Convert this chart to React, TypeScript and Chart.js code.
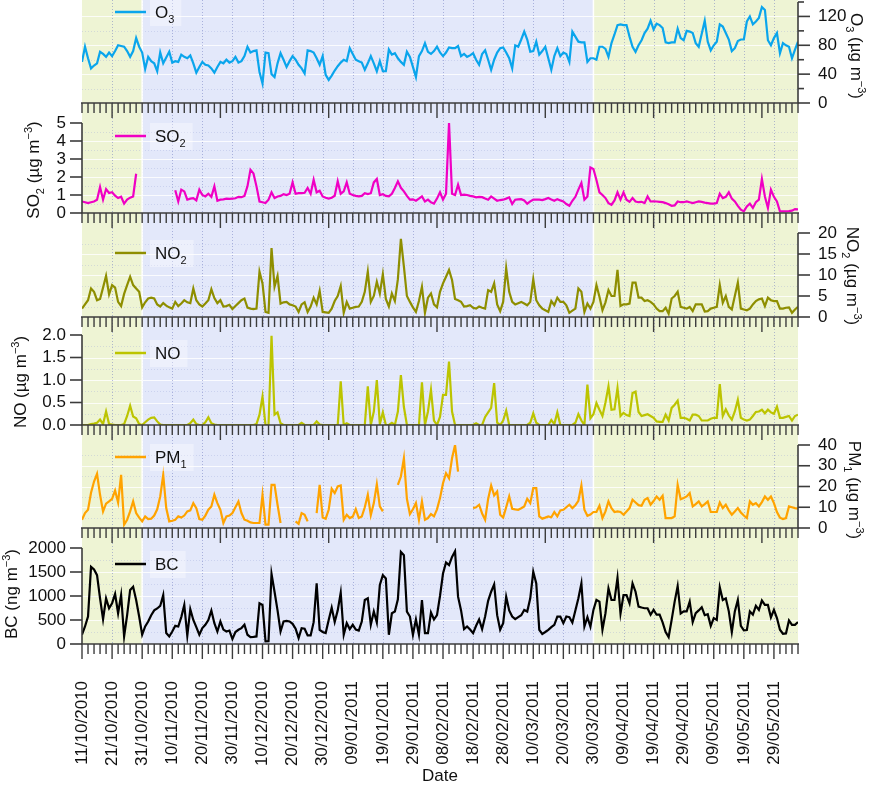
import React, { useEffect, useRef } from 'react';
import { Chart, registerables } from 'chart.js';

Chart.register(...registerables);

const FONT = "'Liberation Sans', Arial, Helvetica, sans-serif";

// ---------- data ----------
const DATE_LABELS = [
  '11/10/2010', '21/10/2010', '31/10/2010', '10/11/2010', '20/11/2010', '30/11/2010',
  '10/12/2010', '20/12/2010', '30/12/2010', '09/01/2011', '19/01/2011', '29/01/2011',
  '08/02/2011', '18/02/2011', '28/02/2011', '10/03/2011', '20/03/2011', '30/03/2011',
  '09/04/2011', '19/04/2011', '29/04/2011', '09/05/2011', '19/05/2011', '29/05/2011',
];
const LAST_DAY = 238;
const SEASON_BOUNDS = [0, 20, 170, 238];

const O3 = [
  57, 78, 62, 48, 52, 55, 71, 68, 64, 70,
  65, 72, 80, 79, 78, 72, 64, 72, 90, 78,
  70, 47, 64, 58, 55, 44, 70, 55, 63, 71,
  56, 58, 57, 67, 64, 62, 66, 55, 42, 50,
  57, 53, 52, 48, 42, 50, 57, 55, 60, 56,
  58, 64, 56, 58, 65, 78, 70, 72, 73, 43,
  27, 70, 69, 40, 36, 55, 69, 60, 50, 58,
  65, 60, 53, 48, 41, 73, 72, 70, 62, 53,
  65, 39, 32, 38, 45, 51, 56, 60, 58, 76,
  68, 60, 58, 56, 46, 55, 65, 55, 44, 58,
  44, 44, 74, 67, 69, 62, 57, 53, 71, 64,
  50, 36, 65, 72, 83, 71, 68, 72, 78, 70,
  65, 70, 77, 76, 76, 79, 65, 68, 64, 66,
  69, 60, 53, 68, 73, 60, 46, 60, 70, 76,
  77, 70, 62, 48, 80, 78, 88, 99, 88, 71,
  72, 85, 67, 72, 78, 62, 46, 65, 76, 65,
  70, 68, 57, 99, 92, 85, 84, 84, 57, 62,
  62, 60, 78, 78, 75, 64, 83, 95, 108, 109,
  108, 108, 92, 78, 71, 80, 87, 97, 103, 114,
  102, 110, 108, 104, 84, 83, 84, 84, 103, 90,
  87, 100, 99, 97, 83, 78, 96, 114, 85, 73,
  80, 85, 109, 106, 97, 88, 72, 76, 86, 88,
  88, 113, 120, 109, 113, 118, 133, 129, 87, 80,
  90, 97, 69, 83, 80, 78, 62, 74, 85,
];

const SO2 = [
  0.64, 0.6, 0.55, 0.6, 0.64, 0.74, 1.44, 0.74, 1.33, 1.11,
  1.15, 0.96, 0.83, 0.9, 0.52, 0.74, 0.85, 0.92, 2.18, null,
  null, null, null, null, null, null, null, null, null, null,
  null, 1.26, 0.64, 1.3, 1.2, 0.74, 0.8, 0.83, 0.7, 1.3,
  1.0, 0.92, 1.07, 0.9, 1.48, 0.68, 0.74, 0.76, 0.8, 0.78,
  0.8, 0.82, 0.9, 0.88, 0.95, 1.48, 2.4, 2.2, 1.48, 0.64,
  0.6, 0.55, 0.74, 1.15, 0.83, 0.92, 0.95, 1.05, 1.0, 1.07,
  1.7, 1.07, 1.1, 1.1, 1.12, 1.39, 1.07, 1.85, 1.15, 1.24,
  0.92, 0.85, 0.8, 0.85, 0.96, 1.76, 1.07, 1.2, 1.7, 1.07,
  1.0, 0.95, 0.92, 0.95, 1.1, 1.05, 1.1, 1.7, 1.89, 1.0,
  1.05, 0.95, 0.92, 1.07, 1.39, 1.76, 1.4, 1.2, 0.95, 0.74,
  0.76, 0.68, 0.8, 0.92, 0.64, 0.74, 0.59, 0.52, 0.8, 1.15,
  0.74, 1.07, 5.0, 1.07, 1.0, 1.57, 1.0, 1.02, 1.0, 0.95,
  0.92, 0.87, 0.9, 0.88, 0.8, 0.74, 0.92, 0.8, 0.68, 0.72,
  0.74, 0.8, 0.87, 0.5, 0.74, 0.76, 0.77, 0.7, 0.52, 0.65,
  0.74, 0.74, 0.74, 0.72, 0.77, 0.83, 0.75, 0.68, 0.77, 0.7,
  0.64, 0.5, 0.4, 0.68, 0.9, 1.3, 1.67, 0.74, 0.92, 2.53,
  2.44, 1.83, 1.15, 1.0, 0.83, 0.55, 0.46, 0.7, 1.15, 0.74,
  1.15, 0.74, 0.62, 0.83, 0.64, 0.6, 0.62, 0.55, 0.92, 0.64,
  0.65, 0.64, 0.62, 0.6, 0.55, 0.48, 0.4, 0.42, 0.64, 0.6,
  0.6, 0.64, 0.6, 0.55, 0.6, 0.64, 0.62, 0.58, 0.55, 0.52,
  0.52, 0.55, 1.07, 0.83, 0.9, 1.15, 0.8, 0.64, 0.4, 0.18,
  0.09, 0.37, 0.52, 0.28, 0.6, 0.74, 1.89, 0.92, 0.28, 1.3,
  0.9, 0.64, 0.09, 0.09, 0.09, 0.1, 0.13, 0.22, 0.2,
];

const NO2 = [
  2.0, 3.0, 4.0, 6.8, 6.0, 4.0, 4.3, 7.0, 9.8, 5.4,
  7.6, 7.0, 3.6, 2.6, 5.5, 7.6, 9.6, 7.6, 6.8, 6.0,
  2.3, 3.5, 4.4, 4.6, 4.4, 3.0, 2.5, 3.3, 2.7, 2.3,
  2.0, 3.6, 2.6, 3.2, 4.0, 3.5, 3.3, 6.8, 4.0, 3.0,
  2.5, 3.2, 4.0, 6.6, 4.5, 3.3, 4.0, 2.5, 2.6, 2.9,
  1.9, 2.6, 3.3, 4.0, 4.4, 2.25, 2.0, 1.9, 2.0, 10.8,
  8.0, 1.2, 1.0, 16.4, 7.2, 9.8, 3.2, 3.5, 3.6, 3.0,
  2.8, 2.5, 1.2, 3.0, 3.5, 1.2, 2.5, 4.6, 3.0, 6.2,
  1.2, 1.1, 1.0, 2.0, 3.8, 5.0, 7.4, 1.0, 3.6, 2.0,
  2.2, 2.4, 2.5, 3.6, 6.0, 10.8, 3.6, 5.0, 8.4, 5.6,
  10.2, 4.3, 2.5, 5.6, 3.8, 9.0, 18.6, 12.0, 5.0, 3.6,
  2.3, 1.2, 3.8, 7.2, 1.0, 4.6, 5.6, 3.0, 2.3, 6.0,
  8.0, 9.6, 11.2, 8.8, 4.3, 4.0, 3.6, 2.5, 2.6, 2.8,
  2.2, 2.0, 2.5, 2.2, 2.0, 6.4, 6.0, 8.0, 3.0, 1.4,
  3.6, 11.6, 6.0, 3.6, 3.0, 3.3, 3.6, 3.2, 2.8, 3.6,
  9.0, 4.0, 2.8, 2.0, 1.6, 1.2, 3.8, 2.8, 4.6, 3.6,
  3.6, 2.8, 1.0, 1.5, 2.0, 6.8, 6.0, 1.2, 3.2, 2.0,
  3.6, 7.6, 4.8, 1.6, 3.5, 6.4, 5.0, 5.0, 11.2, 2.6,
  3.0, 3.0, 3.2, 8.2, 8.2, 4.6, 4.6, 3.8, 4.0, 3.6,
  3.0, 2.0, 1.4, 1.4, 2.2, 0.8, 4.4, 5.0, 6.0, 2.4,
  2.2, 2.0, 2.4, 1.4, 3.0, 3.0, 3.0, 1.3, 1.4, 2.0,
  2.2, 2.4, 7.6, 3.4, 5.0, 2.4, 1.8, 5.0, 8.2, 2.0,
  1.8, 1.6, 2.0, 3.0, 3.8, 4.2, 4.4, 2.6, 4.6, 4.0,
  3.8, 3.8, 2.0, 2.0, 2.2, 2.3, 1.0, 1.8, 2.4,
];

const NO = [
  0, 0, 0, 0.02, 0.03, 0.05, 0.12, 0.02, 0.3, 0.02,
  0.01, 0, 0, 0, 0.02, 0.2, 0.43, 0.19, 0.15, 0.02,
  0, 0.06, 0.12, 0.16, 0.17, 0.08, 0.01, 0, 0, 0,
  0, 0, 0, 0, 0, 0, 0.04, 0.12, 0.02, 0,
  0, 0.06, 0.17, 0.04, 0.01, 0, 0, 0, 0, 0,
  0, 0, 0, 0, 0, 0, 0, 0, 0.02, 0.23,
  0.63, 0, 0, 1.98, 0.23, 0.28, 0.04, 0, 0, 0,
  0, 0, 0, 0.05, 0, 0, 0, 0, 0.08, 0.01,
  0, 0, 0, 0, 0, 0, 0.97, 0, 0.04, 0,
  0, 0, 0, 0, 0, 0.86, 0, 0.3, 1.0, 0.02,
  0.28, 0, 0, 0.05, 0, 0.3, 1.11, 0.4, 0, 0,
  0, 0, 0, 0.95, 0, 0.3, 0.78, 0.1, 0, 0.18,
  0.67, 0.67, 1.41, 0.3, 0, 0, 0, 0, 0, 0,
  0, 0.04, 0, 0, 0.18, 0.28, 0.38, 0.93, 0.05, 0,
  0.1, 0.32, 0, 0, 0, 0, 0, 0, 0, 0.05,
  0.26, 0.05, 0, 0, 0, 0, 0.11, 0.02, 0.28, 0,
  0, 0, 0, 0, 0.05, 0.24, 0.1, 0, 0.9, 0.15,
  0.24, 0.49, 0.34, 0.2, 0.5, 0.86, 0.34, 0.35, 0.82, 0.2,
  0.27, 0.22, 0.2, 0.71, 0.74, 0.29, 0.2, 0.22, 0.24, 0.2,
  0.16, 0.08, 0.07, 0.07, 0.23, 0.1, 0.38, 0.45, 0.54, 0.16,
  0.16, 0.14, 0.1, 0.23, 0.23, 0.2, 0.1, 0.1, 0.1, 0.14,
  0.16, 0.16, 0.91, 0.2, 0.35, 0.21, 0.12, 0.3, 0.56, 0.16,
  0.12, 0.1, 0.12, 0.2, 0.29, 0.3, 0.34, 0.26, 0.34, 0.28,
  0.25, 0.41, 0.16, 0.16, 0.18, 0.2, 0.1, 0.2, 0.23,
];

const PM1 = [
  4.0, 7.2, 8.8, 17, 22.4, 26.1, 16, 8.0, 11.7, 12.8,
  14, 18.1, 12.3, 25.6, 1.6, 4.0, 8, 12.8, 7.2, 5,
  3.2, 5.6, 4.3, 4.5, 6, 9.0, 15.2, 25.6, 9.6, 3.2,
  3.5, 4.0, 5.6, 5.0, 6, 8.0, 8.5, 12.0, 9.6, 4.3,
  4.0, 6, 8.8, 10.4, 16.0, 12, 8.8, 2.4, 5.6, 6,
  7.2, 10, 12.8, 7.2, 4.0, 3.5, 2.7, 2.4, 2.4, 2.4,
  16.0, 1.6, 1.6, 20.8, 20.8, 11.2, 2.4, null, null, null,
  null, 3.2, 2.0, 7.2, 6.4, 3.2, null, null, 7.2, 20.8,
  5.1, 4.5, 8.8, 18.9, 16.8, 20.0, 20.5, 4.0, 6.4, 4.8,
  5.5, 9.1, 4.8, 5.5, 10, 16.0, 6.2, 12, 21.1, 10.4,
  8.0, null, null, null, null, 20.8, 24.8, 33.6, 14.1, 6.7,
  9, 12.0, 4.0, 12.8, 4.0, 4.8, 6.7, 5.6, 9, 14.4,
  21.6, 26.4, 24, 33.6, 40, 27.2, null, null, null, null,
  9.6, 10, 11.2, 7, 4.0, 14, 20.5, 15.7, 17.6, 6.4,
  5.1, 10, 15.2, 9.3, 9, 8.8, 9.5, 10.4, 14.1, 12,
  19.2, 19.2, 5.6, 4.5, 5, 5.6, 5.2, 7.7, 5.6, 8.5,
  8.8, 10, 11.2, 9.6, 11, 13.1, 20.5, 8.8, 5.9, 6.5,
  7.7, 7.7, 10.7, 4.8, 8, 12.8, 9.6, 7.7, 8, 7.7,
  6.4, 8, 9.6, 13.6, 12.3, 11, 10.7, 13.6, 14.4, 11.2,
  13, 15.2, 13.6, 15.5, 4.8, 4.8, 4.8, 5.6, 20.8, 13.9,
  14.5, 15.2, 16.8, 10.4, 11.5, 12.8, 10.4, 11.5, 12.8, 7.7,
  7.7, 7.7, 12.3, 9.6, 11.2, 8.5, 6.4, 8, 9.6, 7.5,
  6, 4.8, 12.8, 11.2, 12, 10.4, 12.5, 15.2, 13.6, 15.2,
  12, 7.7, 5, 4.3, 4.8, 10.4, 10, 9.6, 9.3,
];

const BC = [
  193, 365, 572, 1607, 1553, 1435, 950, 517, 952, 745,
  850, 1041, 641, 1020, 157, 600, 1124, 1193, 917, 572,
  193, 365, 468, 600, 700, 740, 793, 1020, 228, 157,
  260, 379, 365, 560, 814, 172, 724, 500, 350, 193,
  331, 400, 500, 696, 434, 260, 468, 300, 260, 280,
  103, 250, 296, 331, 400, 193, 145, 150, 157, 849,
  814, 55, 60, 1460, 1089, 700, 261, 468, 480, 470,
  420, 317, 124, 330, 317, 179, 179, 455, 1263, 296,
  250, 227, 500, 758, 460, 700, 1069, 193, 434, 310,
  400, 300, 280, 468, 917, 952, 400, 676, 448, 1228,
  1435, 1366, 193, 641, 676, 931, 1918, 1849, 676, 572,
  193, 510, 193, 917, 227, 227, 655, 510, 600, 1000,
  1469, 1697, 1642, 1815, 1932, 986, 700, 310, 365, 300,
  227, 380, 510, 310, 572, 900, 1089, 1241, 600, 296,
  434, 986, 700, 572, 517, 560, 600, 710, 676, 952,
  1504, 1262, 296, 210, 250, 296, 350, 400, 572, 572,
  434, 572, 560, 448, 700, 952, 1262, 365, 560, 360,
  710, 917, 882, 296, 641, 1159, 917, 917, 1379, 634,
  1020, 1020, 848, 1263, 1090, 779, 760, 745, 745, 610,
  710, 610, 610, 450, 250, 145, 503, 882, 1207, 634,
  680, 680, 882, 455, 641, 700, 766, 600, 620, 379,
  540, 503, 1180, 917, 952, 680, 248, 680, 917, 379,
  283, 290, 680, 610, 795, 710, 905, 814, 814, 555,
  710, 540, 296, 214, 220, 490, 400, 400, 455,
];

const O3_TICKS = [0, 40, 80, 120];
const O3_MINOR = [20, 60, 100, 140];
const SO2_TICKS = [0, 1, 2, 3, 4, 5];
const NO2_TICKS = [0, 5, 10, 15, 20];
const NO_TICKS = [0, 0.5, 1.0, 1.5, 2.0];
const PM1_TICKS = [0, 10, 20, 30, 40];
const BC_TICKS = [0, 500, 1000, 1500, 2000];

// ---------- styles / layout ----------
type Seg = { t: string; s?: 'sub' | 'sup' };
const PAGE_W = 871;
const PAGE_H = 785;
const PLOT_LEFT = 82;
const PLOT_RIGHT = 798;
const PAD = 22;
const SEASON_COLORS = ['#eef4d4', '#e3e8fa', '#eef4d4'];
const AXIS_COLOR = '#3c3c3c';
const TEXT_COLOR = '#111111';
const FS = 17;

const UNIT_UG: Seg[] = [{ t: ' (µg m' }, { t: '−3', s: 'sup' }, { t: ')' }];

const PANELS = [
  {
    data: O3, color: '#0aa5ec', side: 'right', top: 2, bottom: 103, max: 140,
    major: O3_TICKS, minor: O3_MINOR, dec: 0,
    legend: [{ t: 'O' }, { t: '3', s: 'sub' }] as Seg[],
    title: [{ t: 'O' }, { t: '3', s: 'sub' }, ...UNIT_UG] as Seg[],
    titleX: 857, titleY: 56, legendY: 12,
  },
  {
    data: SO2, color: '#f000c4', side: 'left', top: 123, bottom: 213, max: 5,
    major: SO2_TICKS, minor: [], dec: 0,
    legend: [{ t: 'SO' }, { t: '2', s: 'sub' }] as Seg[],
    title: [{ t: 'SO' }, { t: '2', s: 'sub' }, ...UNIT_UG] as Seg[],
    titleX: 33, titleY: 170, legendY: 136,
  },
  {
    data: NO2, color: '#8e8e00', side: 'right', top: 233, bottom: 317, max: 20,
    major: NO2_TICKS, minor: [], dec: 0,
    legend: [{ t: 'NO' }, { t: '2', s: 'sub' }] as Seg[],
    title: [{ t: 'NO' }, { t: '2', s: 'sub' }, ...UNIT_UG] as Seg[],
    titleX: 853, titleY: 276, legendY: 253,
  },
  {
    data: NO, color: '#bcc400', side: 'left', top: 335, bottom: 425, max: 2,
    major: NO_TICKS, minor: [], dec: 1,
    legend: [{ t: 'NO' }] as Seg[],
    title: [{ t: 'NO' }, ...UNIT_UG] as Seg[],
    titleX: 20, titleY: 382, legendY: 353,
  },
  {
    data: PM1, color: '#ffa300', side: 'right', top: 445, bottom: 528, max: 40,
    major: PM1_TICKS, minor: [], dec: 0,
    legend: [{ t: 'PM' }, { t: '1', s: 'sub' }] as Seg[],
    title: [{ t: 'PM' }, { t: '1', s: 'sub' }, ...UNIT_UG] as Seg[],
    titleX: 855, titleY: 490, legendY: 457,
  },
  {
    data: BC, color: '#000000', side: 'left', top: 548, bottom: 644, max: 2000,
    major: BC_TICKS, minor: [], dec: 0,
    legend: [{ t: 'BC' }] as Seg[],
    title: [{ t: 'BC (ng m' }, { t: '−3', s: 'sup' }, { t: ')' }] as Seg[],
    titleX: 11, titleY: 594, legendY: 564,
  },
];

function richWidth(ctx: CanvasRenderingContext2D, segs: Seg[], size: number) {
  const small = Math.round(size * 0.65);
  let w = 0;
  for (const s of segs) {
    ctx.font = `${s.s ? small : size}px ${FONT}`;
    w += ctx.measureText(s.t).width;
  }
  return w;
}

function drawRich(ctx: CanvasRenderingContext2D, segs: Seg[], x: number, y: number, size: number) {
  const small = Math.round(size * 0.65);
  let cx = x;
  ctx.textAlign = 'left';
  ctx.textBaseline = 'alphabetic';
  for (const s of segs) {
    ctx.font = `${s.s ? small : size}px ${FONT}`;
    const dy = s.s === 'sub' ? size * 0.3 : s.s === 'sup' ? -size * 0.4 : 0;
    ctx.fillText(s.t, cx, y + dy);
    cx += ctx.measureText(s.t).width;
  }
}

function makeDeco(p: any, canvasTop: number, bandTop: number, isLast: boolean) {
  return {
    id: 'panelDeco',
    beforeDraw(chart: any) {
      const { ctx, chartArea: ca, scales } = chart;
      const x = scales.x;
      const y = scales.y;
      ctx.save();
      // seasonal background bands
      for (let k = 0; k < SEASON_BOUNDS.length - 1; k++) {
        const x0 = x.getPixelForValue(SEASON_BOUNDS[k]);
        const x1 = x.getPixelForValue(SEASON_BOUNDS[k + 1]);
        ctx.fillStyle = SEASON_COLORS[k];
        ctx.fillRect(x0, bandTop, x1 - x0, ca.bottom - bandTop);
      }
      // faint horizontal grid
      const step = p.major[1] - p.major[0];
      for (let v = step / 2; v < p.max; v += step / 2) {
        const py = Math.round(y.getPixelForValue(v)) + 0.5;
        const isMajor = Math.abs(v / step - Math.round(v / step)) < 1e-6;
        ctx.strokeStyle = isMajor ? 'rgba(255,255,255,0.8)' : 'rgba(150,160,215,0.3)';
        ctx.lineWidth = 1;
        ctx.setLineDash(isMajor ? [] : [1, 2]);
        ctx.beginPath();
        ctx.moveTo(ca.left, py);
        ctx.lineTo(ca.right, py);
        ctx.stroke();
      }
      // vertical dotted grid every 10 days
      ctx.setLineDash([1, 2]);
      ctx.strokeStyle = 'rgba(110,120,190,0.5)';
      for (let d = 10; d < LAST_DAY; d += 10) {
        const px = Math.round(x.getPixelForValue(d)) + 0.5;
        ctx.beginPath();
        ctx.moveTo(px, bandTop);
        ctx.lineTo(px, ca.bottom);
        ctx.stroke();
      }
      ctx.setLineDash([]);
      // white separators between seasons
      ctx.strokeStyle = '#ffffff';
      ctx.lineWidth = 1.5;
      for (let k = 1; k < SEASON_BOUNDS.length - 1; k++) {
        const px = x.getPixelForValue(SEASON_BOUNDS[k]);
        ctx.beginPath();
        ctx.moveTo(px, bandTop);
        ctx.lineTo(px, ca.bottom);
        ctx.stroke();
      }
      ctx.restore();
    },
    afterDraw(chart: any) {
      const { ctx, chartArea: ca, scales } = chart;
      const x = scales.x;
      const y = scales.y;
      ctx.save();
      ctx.strokeStyle = AXIS_COLOR;
      // x axis line and ticks
      ctx.lineWidth = 1.6;
      ctx.beginPath();
      ctx.moveTo(ca.left - 1, ca.bottom);
      ctx.lineTo(ca.right + 1, ca.bottom);
      ctx.stroke();
      ctx.lineWidth = 1.4;
      for (let d = 0; d <= LAST_DAY; d += 2) {
        const px = x.getPixelForValue(d);
        const long = isLast ? d % 10 === 0 : d >= 10 && (d - 10) % 36 === 0;
        const len = long ? 15 : 10;
        ctx.beginPath();
        ctx.moveTo(px, ca.bottom);
        ctx.lineTo(px, ca.bottom + len);
        ctx.stroke();
      }
      // y axis line and ticks
      const ax = p.side === 'left' ? ca.left : ca.right;
      const dir = p.side === 'left' ? -1 : 1;
      ctx.lineWidth = 1.6;
      ctx.beginPath();
      ctx.moveTo(ax, ca.top);
      ctx.lineTo(ax, ca.bottom);
      ctx.stroke();
      const drawT = (v: number, len: number) => {
        const py = y.getPixelForValue(v);
        ctx.beginPath();
        ctx.moveTo(ax, py);
        ctx.lineTo(ax + dir * len, py);
        ctx.stroke();
      };
      p.major.forEach((v: number) => drawT(v, 12));
      p.minor.forEach((v: number) => drawT(v, 6));

      // legend
      const ly = p.legendY - canvasTop;
      const tw = richWidth(ctx, p.legend, FS);
      ctx.fillStyle = 'rgba(255,255,255,0.35)';
      ctx.fillRect(150, ly - 13, tw + 12, 27);
      ctx.strokeStyle = p.color;
      ctx.lineWidth = 2.5;
      ctx.beginPath();
      ctx.moveTo(115, ly);
      ctx.lineTo(146, ly);
      ctx.stroke();
      ctx.fillStyle = TEXT_COLOR;
      drawRich(ctx, p.legend, 155, ly + 6, FS);

      // axis title (rotated, with sub/superscripts)
      const w = richWidth(ctx, p.title, FS);
      ctx.translate(p.titleX, p.titleY - canvasTop);
      ctx.rotate(p.side === 'left' ? -Math.PI / 2 : Math.PI / 2);
      ctx.fillStyle = TEXT_COLOR;
      drawRich(ctx, p.title, -w / 2, FS * 0.35, FS);
      ctx.restore();
    },
  };
}

function Panel({ p, index }: { p: any; index: number }) {
  const ref = useRef<HTMLCanvasElement>(null);
  const isLast = index === PANELS.length - 1;
  const canvasTop = index === 0 ? 0 : p.top - PAD;
  const canvasBottom = isLast ? PAGE_H : p.bottom + PAD;
  const h = canvasBottom - canvasTop;
  const padTop = p.top - canvasTop;
  const padBottom = isLast ? 0 : canvasBottom - p.bottom;
  const bandTop = index === 0 ? 0 : PANELS[index - 1].bottom - canvasTop;

  useEffect(() => {
    const canvas = ref.current!;
    const fmt = (v: number) => (p.dec ? v.toFixed(p.dec) : String(v));
    const chart = new Chart(canvas, {
      type: 'line',
      data: {
        datasets: [
          {
            data: p.data.map((v: number | null, i: number) => ({ x: i, y: v })),
            borderColor: p.color,
            borderWidth: 2.2,
            pointRadius: 0,
            tension: 0,
            spanGaps: false,
            fill: false,
          },
        ],
      },
      options: {
        responsive: false,
        animation: false,
        events: [],
        layout: {
          padding: {
            top: padTop,
            bottom: padBottom,
            left: p.side === 'left' ? 0 : PLOT_LEFT,
            right: p.side === 'left' ? PAGE_W - PLOT_RIGHT : 0,
          },
        },
        plugins: { legend: { display: false }, tooltip: { enabled: false } },
        scales: {
          x: {
            type: 'linear',
            min: 0,
            max: LAST_DAY,
            display: isLast,
            grid: { display: false, drawTicks: true, tickLength: 22 },
            border: { display: false },
            afterBuildTicks: (s: any) => {
              s.ticks = DATE_LABELS.map((_, i) => ({ value: i * 10 }));
            },
            afterFit: (s: any) => {
              if (isLast) s.height = PAGE_H - p.bottom;
              s.paddingLeft = 0;
              s.paddingRight = 0;
            },
            ticks: {
              autoSkip: false,
              minRotation: 90,
              maxRotation: 90,
              padding: 15,
              color: TEXT_COLOR,
              font: { family: FONT, size: FS },
              callback: (v: any) => DATE_LABELS[Math.round(Number(v) / 10)] ?? '',
            },
            title: {
              display: isLast,
              text: 'Date',
              color: TEXT_COLOR,
              font: { family: FONT, size: FS },
              padding: { top: 0, bottom: -2 },
            },
          },
          y: {
            type: 'linear',
            position: p.side,
            min: 0,
            max: p.max,
            grid: { display: false, drawTicks: true, tickLength: p.side === 'left' ? 16 : 20 },
            border: { display: false },
            afterBuildTicks: (s: any) => {
              s.ticks = p.major.map((v: number) => ({ value: v }));
            },
            afterFit: (s: any) => {
              s.width = p.side === 'left' ? PLOT_LEFT : PAGE_W - PLOT_RIGHT;
              s.paddingTop = 0;
              s.paddingBottom = 0;
            },
            ticks: {
              autoSkip: false,
              padding: 0,
              color: TEXT_COLOR,
              font: { family: FONT, size: FS },
              callback: (v: any) => fmt(Number(v)),
            },
          },
        },
      } as any,
      plugins: [makeDeco(p, canvasTop, bandTop, isLast)],
    });
    return () => chart.destroy();
  }, []);

  return (
    <canvas
      ref={ref}
      width={PAGE_W}
      height={h}
      style={{ position: 'absolute', left: 0, top: canvasTop, width: PAGE_W, height: h, zIndex: 20 - index }}
    />
  );
}

export default function App() {
  return (
    <div style={{ position: 'absolute', left: 0, top: 0, width: PAGE_W, height: PAGE_H, background: '#ffffff', overflow: 'hidden' }}>
      {PANELS.map((p, i) => (
        <Panel key={i} p={p} index={i} />
      ))}
    </div>
  );
}
